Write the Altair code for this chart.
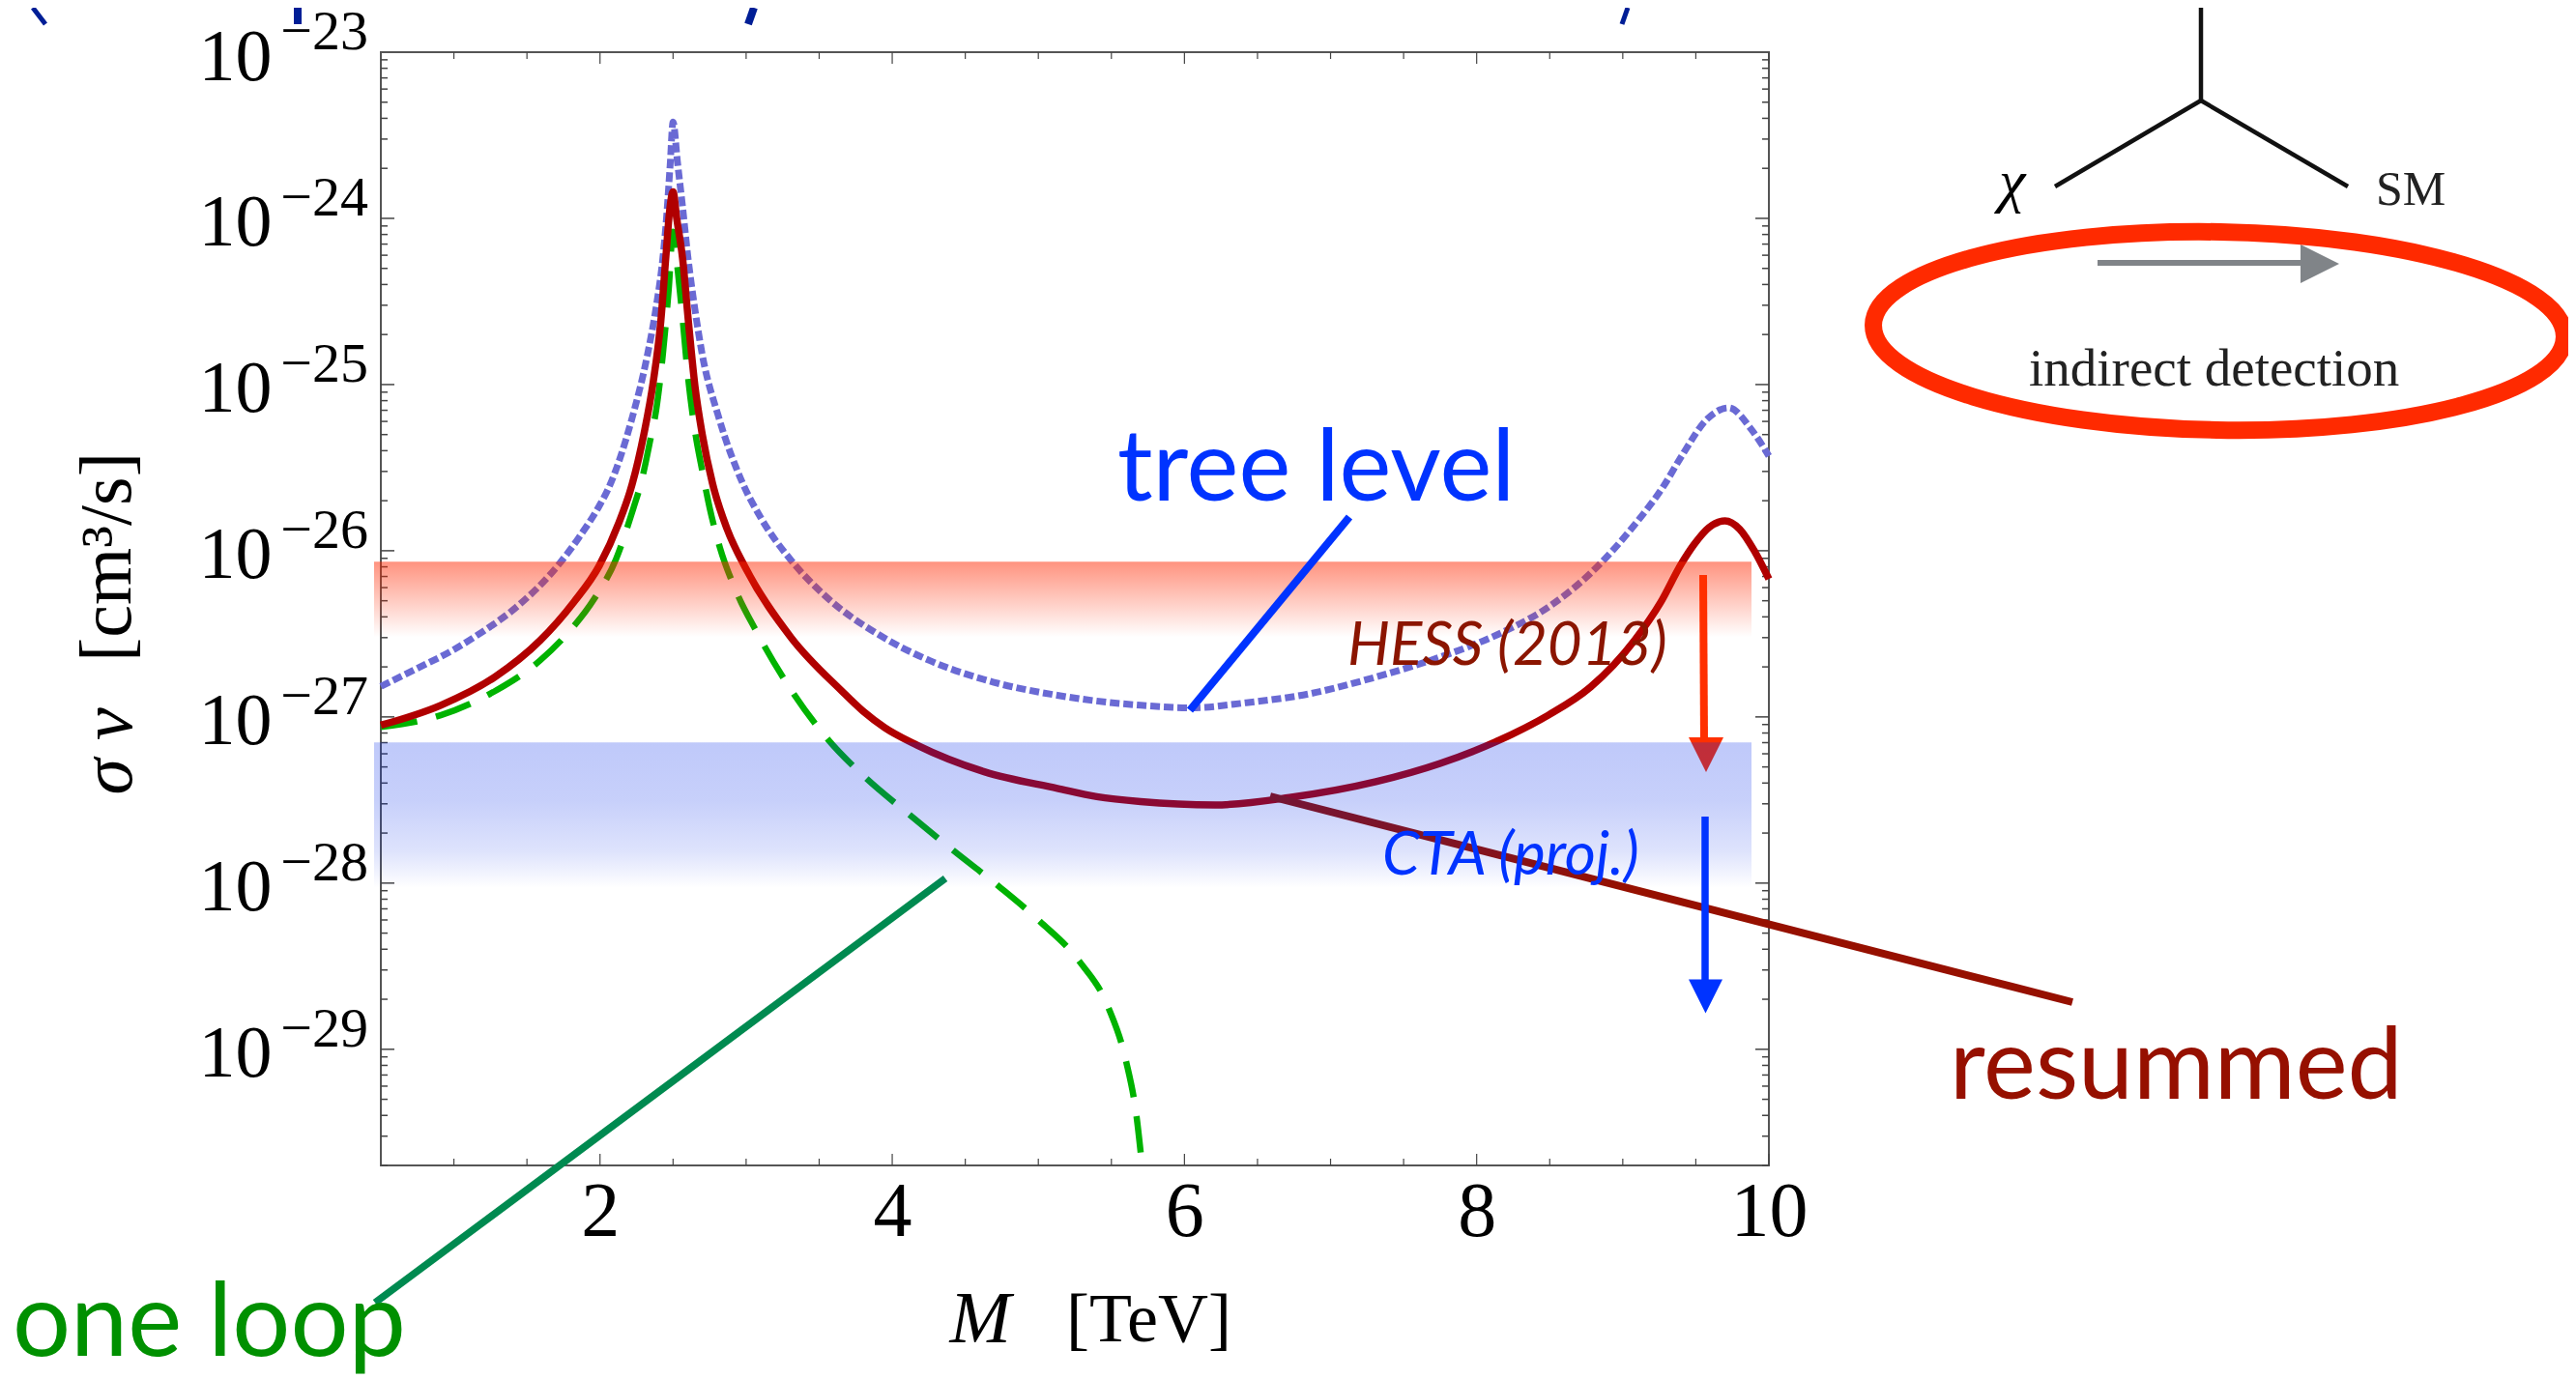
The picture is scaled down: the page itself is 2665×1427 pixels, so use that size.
import altair as alt
import pandas as pd

# ---- data: M in TeV, log10(sigma v) ----
tree_M = [0.5,0.745,1.0,1.2,1.42,1.72,1.856,1.995,2.06,2.22,2.325,2.385,2.43,2.455,2.48,2.5,2.53,2.565,2.60,2.65,2.70,2.81,2.977,3.106,3.31,3.545,3.917,4.254,4.69,5.13,5.70,6.05,6.42,6.86,7.31,7.75,8.19,8.49,8.78,9.08,9.28,9.41,9.58,9.725,9.88,10.0]
tree_log = [-26.816,-26.71,-26.595,-26.485,-26.345,-26.08,-25.92,-25.73,-25.62,-25.2,-24.82,-24.53,-24.24,-24.0,-23.68,-23.42,-23.66,-23.93,-24.22,-24.55,-24.82,-25.19,-25.595,-25.81,-26.06,-26.275,-26.51,-26.66,-26.79,-26.87,-26.93,-26.945,-26.915,-26.86,-26.76,-26.64,-26.485,-26.34,-26.135,-25.845,-25.61,-25.42,-25.205,-25.14,-25.27,-25.43]
res_M = [0.5,0.91,1.28,1.59,1.82,1.995,2.13,2.22,2.30,2.365,2.416,2.45,2.477,2.5,2.525,2.565,2.605,2.65,2.70,2.77,2.87,3.0,3.31,3.65,3.8,3.95,4.17,4.63,5.13,5.4,5.70,6.21,6.72,7.31,7.75,8.13,8.49,8.78,9.08,9.26,9.40,9.49,9.59,9.70,9.80,9.90,10.0]
res_log = [-27.05,-26.93,-26.76,-26.54,-26.31,-26.09,-25.83,-25.60,-25.30,-24.98,-24.62,-24.24,-23.95,-23.84,-24.0,-24.24,-24.62,-25.01,-25.30,-25.595,-25.87,-26.11,-26.525,-26.84,-26.965,-27.065,-27.17,-27.33,-27.43,-27.48,-27.51,-27.53,-27.485,-27.39,-27.28,-27.15,-26.99,-26.82,-26.54,-26.31,-26.08,-25.96,-25.86,-25.82,-25.87,-26.0,-26.17]
loop_M = [0.5,0.91,1.28,1.59,1.79,1.96,2.11,2.23,2.28,2.345,2.385,2.43,2.47,2.5,2.534,2.567,2.597,2.65,2.70,2.75,2.82,2.92,3.07,3.28,3.545,3.81,4.12,4.42,4.73,5.01,5.28,5.48,5.60,5.67,5.71]
loop_log = [-27.06,-26.99,-26.845,-26.66,-26.485,-26.29,-26.05,-25.74,-25.595,-25.33,-25.15,-24.82,-24.43,-24.08,-24.33,-24.62,-24.91,-25.28,-25.52,-25.74,-25.98,-26.22,-26.485,-26.80,-27.12,-27.36,-27.59,-27.805,-28.02,-28.23,-28.47,-28.75,-29.07,-29.39,-29.70]
hess_band_log = [-26.066, -26.52]
cta_band_log = [-27.154, -28.03]
decades = [-23,-24,-25,-26,-27,-28,-29]
minor_mult = [2,3,4,5,6,7,8,9]
x_major = [2,4,6,8,10]
x_minor = [1,1.5,2.5,3,3.5,4.5,5,5.5,6.5,7,7.5,8.5,9,9.5]

# ---- layout ----
W, H, OX, OY = 1436, 1152, 394, 54
SERIF, SANS = "Liberation Serif", "Lato"
xs = alt.Scale(domain=[0.5, 10], nice=False, zero=False)
ys = alt.Scale(type="log", domain=[2e-30, 1e-23], nice=False)

X_AXIS = alt.Axis(
    values=x_major, title="M", titleFont=SERIF, titleFontSize=76, titleFontStyle="italic",
    titleFontWeight="normal", titleX=982-OX, titleY=1388-(OY+H), titleAlign="left",
    titleBaseline="alphabetic", titleColor="black", labelFont=SERIF, labelFontSize=80, labelColor="black",
    labelPadding=72, labelBaseline="alphabetic", ticks=False, domain=False, grid=False,
    labelFlush=False, labelOverlap=False, format="d")
Y_AXIS = alt.Axis(
    values=[10.0**d for d in decades], labelExpr="'10'", title="σ v", titleFont=SERIF,
    titleFontSize=76, titleFontStyle="italic", titleFontWeight="normal", titleAngle=270, titleColor="black",
    titleX=135-OX, titleY=822-OY, titleAlign="left", titleBaseline="alphabetic",
    labelFont=SERIF, labelFontSize=76, labelColor="black", labelPadding=113, labelOffset=28,
    labelBaseline="alphabetic", ticks=False, domain=False, grid=False, labelOverlap=False)

def X(f="M:Q"):
    return alt.X(f, scale=xs, axis=X_AXIS)
def Y(f="sv:Q"):
    return alt.Y(f, scale=ys, axis=Y_AXIS)

def curve(M, logs, **kw):
    df = pd.DataFrame({"M": M, "sv": [10.0**v for v in logs]})
    return alt.Chart(df).mark_line(interpolate="monotone", **kw).encode(x=X(), y=Y())

def seg(x1, y1, x2, y2, color, w):
    return alt.Chart().mark_rule(color=color, strokeWidth=w).encode(
        x=alt.value(x1-OX), x2=alt.value(x2-OX), y=alt.value(y1-OY), y2=alt.value(y2-OY))

def label(t, x, y, size, color="black", font=SANS, align="left", style="normal", angle=0):
    return alt.Chart().mark_text(text=t, fontSize=size, color=color, font=font, align=align,
                                 baseline="alphabetic", fontStyle=style, angle=angle).encode(
        x=alt.value(x-OX), y=alt.value(y-OY))

def head(x, y, w, color, shape="M-1,-1L1,-1L0,1Z"):
    return alt.Chart().mark_point(shape=shape, size=w*w, filled=True, fill=color,
                                  stroke=None, opacity=1).encode(x=alt.value(x-OX), y=alt.value(y-OY))

def band(logs, x1, x2, stops):
    df = pd.DataFrame({"hi": [10.0**logs[0]], "lo": [10.0**logs[1]]})
    g = alt.Gradient(gradient="linear", x1=0, y1=0, x2=0, y2=1,
                     stops=[alt.GradientStop(offset=o, color=c) for o, c in stops])
    return alt.Chart(df).mark_rect(fill=g).encode(
        x=alt.value(x1-OX), x2=alt.value(x2-OX), y=Y("hi:Q"), y2=alt.Y2("lo:Q"))

# ---- superscripts and inward ticks ----
sup_df = pd.DataFrame({"sv": [10.0**d for d in decades], "t": [f"\u2212{-d}" for d in decades]})
sups = alt.Chart(sup_df).mark_text(font=SERIF, fontSize=58, align="right", baseline="alphabetic",
                                   dy=-3, color="black").encode(x=alt.value(-13), y=Y(), text="t:N")

y_major = pd.DataFrame({"sv": [10.0**d for d in decades[1:]]})
y_minor = pd.DataFrame({"sv": [m*10.0**(d-1) for d in decades for m in minor_mult]})
TICK = "#444444"
def ytick(df, x1, x2):
    return alt.Chart(df).mark_rule(color=TICK, strokeWidth=1.5).encode(
        x=alt.value(x1), x2=alt.value(x2), y=Y())
def xtick(vals, y1, y2):
    return alt.Chart(pd.DataFrame({"M": vals})).mark_rule(color=TICK, strokeWidth=1.2).encode(
        x=X(), y=alt.value(y1), y2=alt.value(y2))
ticks = [ytick(y_major, 0, 14), ytick(y_minor, 0, 7), ytick(y_major, W-14, W), ytick(y_minor, W-7, W),
         xtick(x_major, 0, 12), xtick(x_minor, 0, 7), xtick(x_major, H-12, H), xtick(x_minor, H-7, H)]

# ---- curves ----
tree = curve(tree_M, tree_log, color="#6A6AD4", strokeWidth=7, strokeDash=[10, 4])
loop = curve(loop_M, loop_log, color="#00B300", strokeWidth=6.5, strokeDash=[38, 20])
res = curve(res_M, res_log, color="#B00000", strokeWidth=7.5)

layers = [sups] + ticks + [tree, loop, res]

# pointers under the bands
layers += [seg(1314, 824, 2144, 1037, "#961000", 8), seg(978, 909, 388, 1348, "#008A50", 7.5)]
layers.append(band(hess_band_log, 387, 1812, [(0, "rgba(255,40,0,0.5)"), (1, "rgba(255,40,0,0)")]))
layers += [seg(1762, 595, 1763, 765, "#FF3000", 8), head(1765, 781, 36, "#FF3000")]
layers.append(band(cta_band_log, 387, 1812, [(0, "rgba(0,40,235,0.25)"), (0.4, "rgba(0,40,235,0.22)"),
                                             (0.75, "rgba(0,40,235,0.13)"), (1, "rgba(0,40,235,0)")]))
layers += [seg(1396, 535, 1231, 735, "#0033FF", 8), seg(1764, 845, 1764, 1016, "#0033FF", 7.5),
           head(1764.5, 1031, 35, "#0033FF")]

# annotations
layers += [label("tree level", 1156, 518, 102, "#0033FF"),
           label("HESS (2013)", 1394, 688, 62, "#8B1500", style="italic"),
           label("CTA (proj.)", 1430, 905, 62, "#0033FF", style="italic"),
           label("resummed", 2017, 1137, 102, "#961000"),
           label("one loop", 13, 1403, 106, "#009000"),
           label("[TeV]", 1103, 1388, 72, font=SERIF),
           label("[cm³/s]", 135, 685, 76, font=SERIF, angle=270)]

# diagram at upper right
layers += [seg(2277, 0, 2277, 104, "#111111", 4.5), seg(2277, 104, 2126, 193, "#111111", 4.5),
           seg(2277, 104, 2429, 193, "#111111", 4.5),
           seg(2170, 272, 2392, 272, "#808488", 6), head(2400, 273, 40, "#808488", "M-1,-1L1,0L-1,1Z"),
           label("χ", 2068, 208, 62, font=SERIF, style="italic"),
           label("SM", 2458, 212, 50, "#222222", font=SERIF),
           label("indirect detection", 2099, 399, 55, "#222222", font=SERIF)]
layers.append(alt.Chart().mark_point(shape="M-1,0A1,0.2867,0,1,1,1,0A1,0.2867,0,1,1,-1,0Z",
                                     size=715*715, filled=False, stroke="#FF2A00", strokeWidth=18,
                                     angle=1, opacity=1).encode(x=alt.value(2295.5-OX), y=alt.value(342.5-OY)))

# cropped fragments of a heading above the picture
NAVY = "#001E96"
layers += [seg(34, 8, 47, 25, NAVY, 5), seg(308, 8, 308, 25, NAVY, 8),
           seg(780, 8, 774, 25, NAVY, 8), seg(1684, 8, 1678, 25, NAVY, 5)]

chart = alt.layer(*layers).properties(
    width=W, height=H,
    autosize=alt.AutoSizeParams(type="none"),
    padding={"left": OX-8, "top": OY-8, "right": 2665-OX-W-8, "bottom": 1427-OY-H},
    background="white",
).configure_view(stroke="#555555", strokeWidth=2)

chart.save("out.html", embed_options={"renderer": "svg", "actions": False})
